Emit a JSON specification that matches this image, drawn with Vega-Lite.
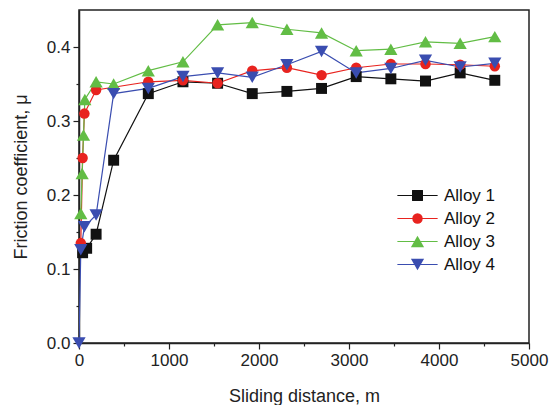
{
  "$schema": "https://vega.github.io/schema/vega-lite/v6.json",
  "autosize": "none",
  "width": 450,
  "height": 333,
  "padding": {"left": 79, "top": 10, "right": 29, "bottom": 62},
  "background": "white",
  "config": {
    "view": {"stroke": "#222", "strokeWidth": 1.5},
    "font": "Liberation Sans",
    "axis": {"labelFont": "Liberation Sans", "titleFont": "Liberation Sans", "labelFontSize": 17, "titleFontSize": 18, "titleFontWeight": "normal", "labelColor": "#222", "titleColor": "#222", "domainColor": "#222", "tickColor": "#222", "domainWidth": 1.5, "tickWidth": 1.2, "grid": false}
  },
  "data": {"values": [
    {"alloy": "Alloy 1", "d": 40, "mu": 0.122},
    {"alloy": "Alloy 1", "d": 85, "mu": 0.128},
    {"alloy": "Alloy 1", "d": 190, "mu": 0.147},
    {"alloy": "Alloy 1", "d": 385, "mu": 0.247},
    {"alloy": "Alloy 1", "d": 770, "mu": 0.337},
    {"alloy": "Alloy 1", "d": 1155, "mu": 0.353},
    {"alloy": "Alloy 1", "d": 1540, "mu": 0.351},
    {"alloy": "Alloy 1", "d": 1925, "mu": 0.337},
    {"alloy": "Alloy 1", "d": 2310, "mu": 0.340},
    {"alloy": "Alloy 1", "d": 2695, "mu": 0.344},
    {"alloy": "Alloy 1", "d": 3080, "mu": 0.360},
    {"alloy": "Alloy 1", "d": 3465, "mu": 0.357},
    {"alloy": "Alloy 1", "d": 3850, "mu": 0.354},
    {"alloy": "Alloy 1", "d": 4235, "mu": 0.365},
    {"alloy": "Alloy 1", "d": 4620, "mu": 0.355},
    {"alloy": "Alloy 2", "d": 20, "mu": 0.135},
    {"alloy": "Alloy 2", "d": 40, "mu": 0.25},
    {"alloy": "Alloy 2", "d": 60, "mu": 0.31},
    {"alloy": "Alloy 2", "d": 190, "mu": 0.342},
    {"alloy": "Alloy 2", "d": 770, "mu": 0.353},
    {"alloy": "Alloy 2", "d": 1155, "mu": 0.355},
    {"alloy": "Alloy 2", "d": 1540, "mu": 0.351},
    {"alloy": "Alloy 2", "d": 1925, "mu": 0.368},
    {"alloy": "Alloy 2", "d": 2310, "mu": 0.372},
    {"alloy": "Alloy 2", "d": 2695, "mu": 0.362},
    {"alloy": "Alloy 2", "d": 3080, "mu": 0.372},
    {"alloy": "Alloy 2", "d": 3465, "mu": 0.377},
    {"alloy": "Alloy 2", "d": 3850, "mu": 0.377},
    {"alloy": "Alloy 2", "d": 4235, "mu": 0.376},
    {"alloy": "Alloy 2", "d": 4620, "mu": 0.374},
    {"alloy": "Alloy 3", "d": 20, "mu": 0.175},
    {"alloy": "Alloy 3", "d": 35, "mu": 0.229},
    {"alloy": "Alloy 3", "d": 50, "mu": 0.281},
    {"alloy": "Alloy 3", "d": 65, "mu": 0.329},
    {"alloy": "Alloy 3", "d": 190, "mu": 0.353},
    {"alloy": "Alloy 3", "d": 385, "mu": 0.350},
    {"alloy": "Alloy 3", "d": 770, "mu": 0.368},
    {"alloy": "Alloy 3", "d": 1155, "mu": 0.380},
    {"alloy": "Alloy 3", "d": 1540, "mu": 0.430},
    {"alloy": "Alloy 3", "d": 1925, "mu": 0.433},
    {"alloy": "Alloy 3", "d": 2310, "mu": 0.424},
    {"alloy": "Alloy 3", "d": 2695, "mu": 0.419},
    {"alloy": "Alloy 3", "d": 3080, "mu": 0.395},
    {"alloy": "Alloy 3", "d": 3465, "mu": 0.397},
    {"alloy": "Alloy 3", "d": 3850, "mu": 0.407},
    {"alloy": "Alloy 3", "d": 4235, "mu": 0.405},
    {"alloy": "Alloy 3", "d": 4620, "mu": 0.414},
    {"alloy": "Alloy 4", "d": 0, "mu": 0.0},
    {"alloy": "Alloy 4", "d": 20, "mu": 0.126},
    {"alloy": "Alloy 4", "d": 60, "mu": 0.157},
    {"alloy": "Alloy 4", "d": 190, "mu": 0.173},
    {"alloy": "Alloy 4", "d": 385, "mu": 0.337},
    {"alloy": "Alloy 4", "d": 770, "mu": 0.344},
    {"alloy": "Alloy 4", "d": 1155, "mu": 0.360},
    {"alloy": "Alloy 4", "d": 1540, "mu": 0.365},
    {"alloy": "Alloy 4", "d": 1925, "mu": 0.359},
    {"alloy": "Alloy 4", "d": 2310, "mu": 0.376},
    {"alloy": "Alloy 4", "d": 2695, "mu": 0.394},
    {"alloy": "Alloy 4", "d": 3080, "mu": 0.365},
    {"alloy": "Alloy 4", "d": 3465, "mu": 0.371},
    {"alloy": "Alloy 4", "d": 3850, "mu": 0.382},
    {"alloy": "Alloy 4", "d": 4235, "mu": 0.373},
    {"alloy": "Alloy 4", "d": 4620, "mu": 0.378}
  ]},
  "encoding": {
    "x": {"field": "d", "type": "quantitative", "scale": {"domain": [0, 5000], "nice": false, "zero": false},
      "axis": {"title": "Sliding distance, m", "values": [0,500,1000,1500,2000,2500,3000,3500,4000,4500,5000],
        "labelExpr": "datum.value % 1000 === 0 ? datum.label : ''", "format": "d",
        "tickSize": {"condition": {"test": "datum.value % 1000 === 0", "value": 6}, "value": 3},
        "labelPadding": 3, "titlePadding": 19, "labelFlush": false}},
    "y": {"field": "mu", "type": "quantitative", "scale": {"domain": [0, 0.45], "nice": false},
      "axis": {"title": "Friction coefficient, μ", "values": [0,0.05,0.1,0.15,0.2,0.25,0.3,0.35,0.4],
        "labelExpr": "round(datum.value*20) % 2 === 0 ? format(datum.value, '.1f') : ''",
        "tickSize": {"condition": {"test": "round(datum.value*20) % 2 === 0", "value": 6}, "value": 3},
        "labelPadding": 3, "titlePadding": 16, "labelFlush": false}}
  },
  "resolve": {"legend": {"color": "independent", "shape": "independent", "size": "independent"}},
  "layer": [
    {"mark": {"type": "line", "strokeWidth": 1.2, "clip": true},
      "encoding": {
        "color": {"field": "alloy", "type": "nominal",
          "scale": {"domain": ["Alloy 1","Alloy 2","Alloy 3","Alloy 4"], "range": ["#111111","#e8231f","#62bd45","#3a4db0"]},
          "legend": {"title": null, "orient": "none", "legendX": 330, "legendY": 177, "padding": 0, "labelFontSize": 17, "labelFont": "Liberation Sans", "labelOpacity": 0, "symbolType": "M-3.6,0H3.6", "symbolSize": 125, "symbolStrokeWidth": 1.2, "rowPadding": 5, "labelOffset": 18}}}},
    {"mark": {"type": "point", "filled": true, "opacity": 1, "clip": false},
      "encoding": {
        "shape": {"field": "alloy", "type": "nominal",
          "scale": {"domain": ["Alloy 1","Alloy 2","Alloy 3","Alloy 4"], "range": ["square","circle","triangle-up","triangle-down"]},
          "legend": {"title": null, "orient": "none", "legendX": 330, "legendY": 177, "padding": 0, "labelFontSize": 17, "labelFont": "Liberation Sans", "labelColor": "#111", "symbolSize": 125, "rowPadding": 5, "symbolStrokeWidth": 0, "labelOffset": 18}},
        "color": {"field": "alloy", "type": "nominal",
          "scale": {"domain": ["Alloy 1","Alloy 2","Alloy 3","Alloy 4"], "range": ["#111111","#e8231f","#62bd45","#3a4db0"]},
          "legend": {"title": null, "orient": "none", "legendX": 330, "legendY": 177, "padding": 0, "labelFontSize": 17, "labelFont": "Liberation Sans", "labelColor": "#111", "symbolSize": 125, "rowPadding": 5, "symbolStrokeWidth": 0, "labelOffset": 18}},
        "size": {"field": "alloy", "type": "nominal",
          "scale": {"type": "ordinal", "domain": ["Alloy 1","Alloy 2","Alloy 3","Alloy 4"], "range": [120, 110, 175, 175]},
          "legend": null}
      }}
  ]
}
